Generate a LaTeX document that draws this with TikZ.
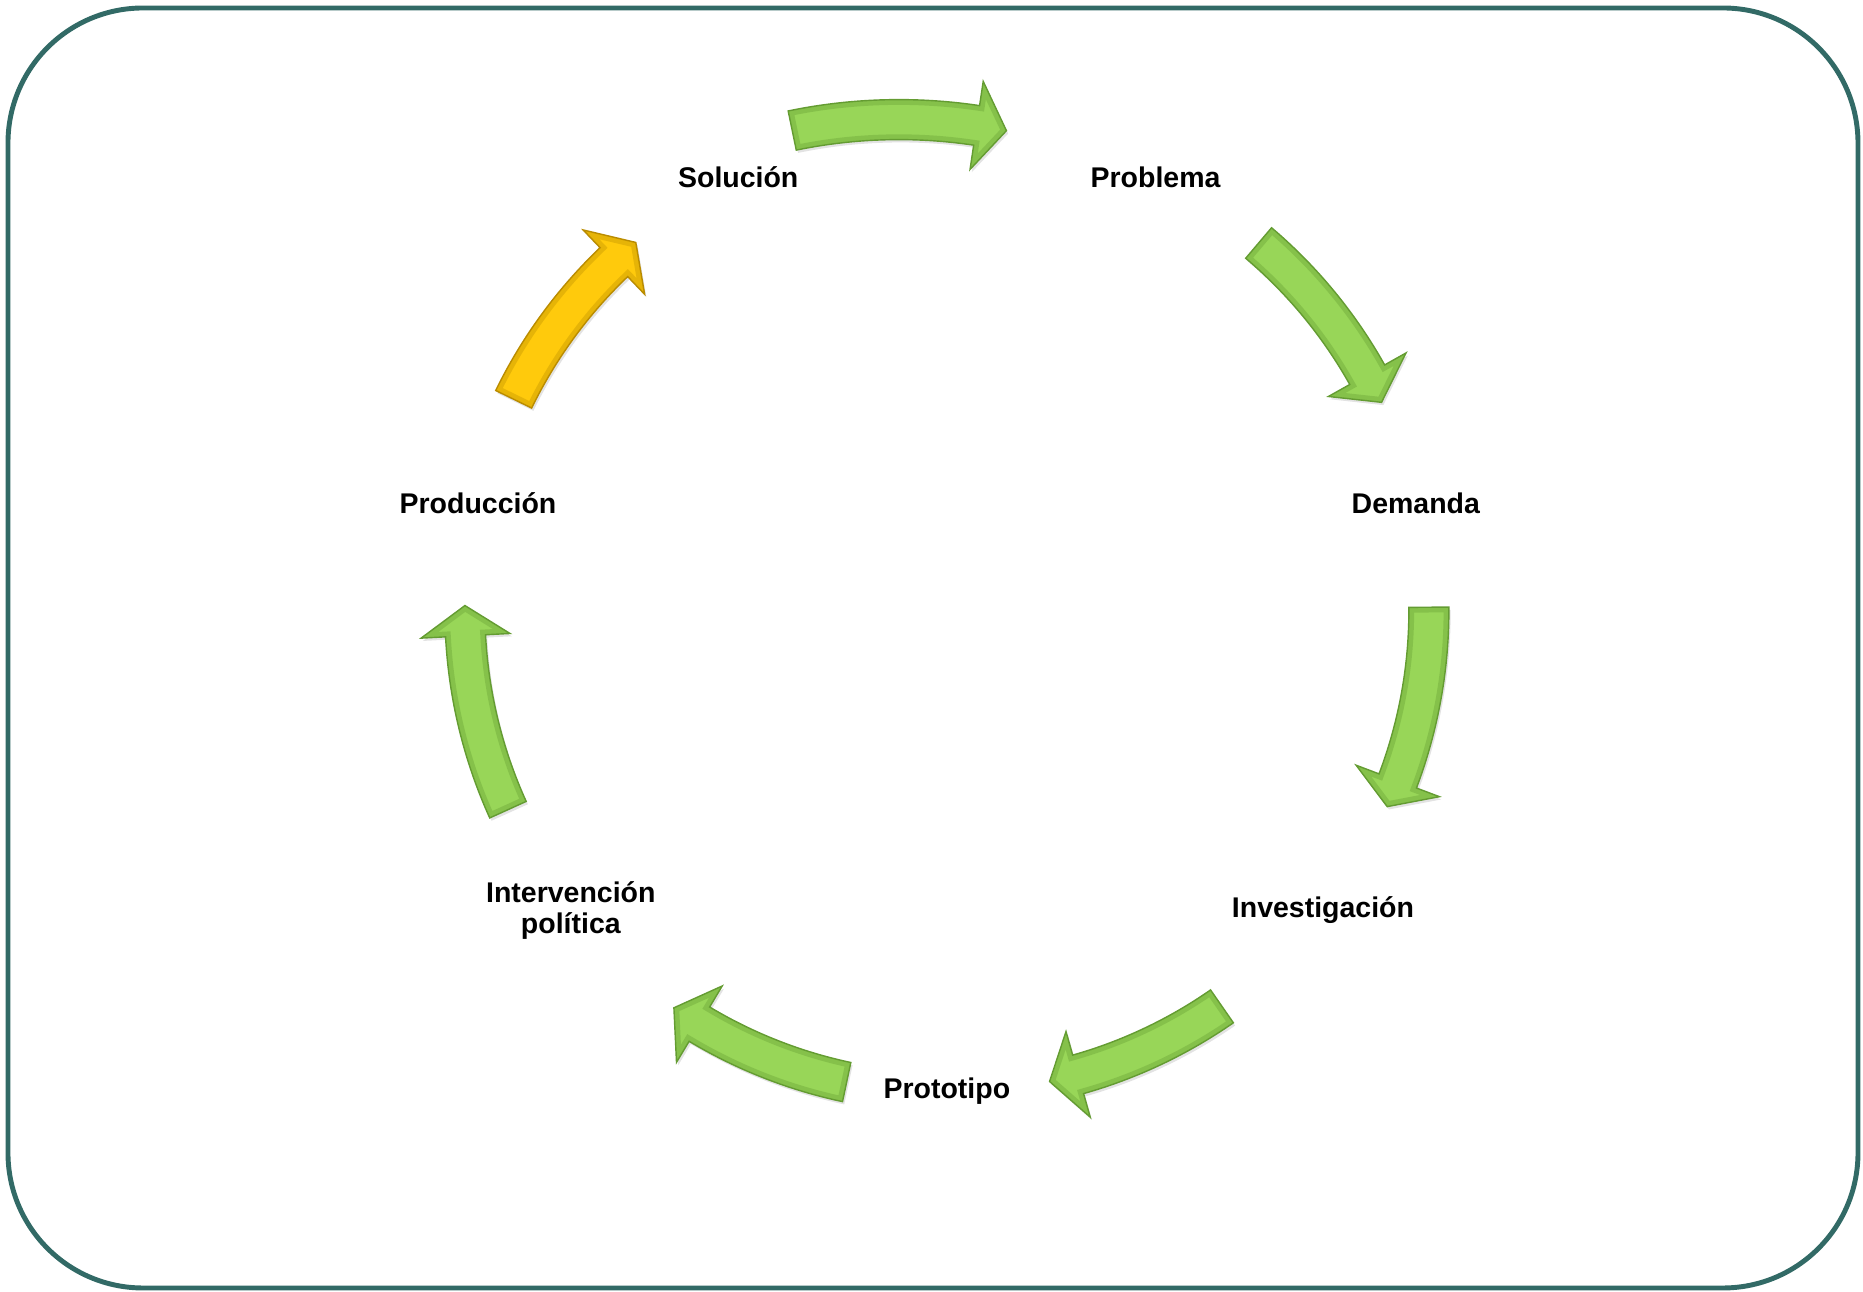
\documentclass[tikz,border=0pt]{standalone}
\usepackage{fontspec}
\setmainfont{Liberation Sans}
\usepackage{tikz}
\usetikzlibrary{shadows}
\definecolor{colormarco}{RGB}{50,106,102}
\definecolor{verde}{RGB}{152,214,88}
\definecolor{verdeborde}{RGB}{100,156,50}
\definecolor{amarillo}{RGB}{255,202,12}
\definecolor{amarilloborde}{RGB}{186,140,0}
\tikzset
{
    etiqueta/.style = {align=center, inner sep=0pt, font=\fontsize{8.1}{8.8}\selectfont\bfseries},
    sombra/.style = {drop shadow={opacity=0.22, shadow xshift=0.5pt, shadow yshift=-0.8pt}},
    biselverde/.style = {draw=verdeborde, line width=3pt, opacity=0.35},
    biselamarillo/.style = {draw=amarilloborde, line width=3pt, opacity=0.35},
    marco/.style = {draw=colormarco, line width=1.4pt, rounded corners=1.35cm}
}
% contorno de una flecha curva: cola, base de la punta, punta, radio
\newcommand{\contornoflecha}[4]{(#1:{#4+20}) arc[start angle=#1, end angle=#2, radius=#4+20]
	-- (#2:{#4+44.5}) -- (#3:#4) -- (#2:{#4-44.5})
	-- (#2:{#4-20}) arc[start angle=#2, end angle=#1, radius=#4-20] -- cycle}
\newcommand{\flechaciclo}[6]{%
	\fill[#5, sombra] \contornoflecha{#1}{#2}{#3}{#4};
	\begin{scope}
		\clip \contornoflecha{#1}{#2}{#3}{#4};
		\draw[#6] \contornoflecha{#1}{#2}{#3}{#4};
	\end{scope}
	\draw[#6, line width=0.4pt, opacity=1] \contornoflecha{#1}{#2}{#3}{#4};
}

\begin{document}
\begin{tikzpicture}[x=0.01cm, y=0.01cm]
	\useasboundingbox (-946.9,-681.4) rectangle (916.1,610.6);
	\draw[marco] (-938.9,602.6) rectangle (911.1,-677.4);

	% flechas del ciclo
	\begin{scope}[shift={(-48,-35)}]
		\flechaciclo{101.7}{81.5}{78.2}{526}{verde}{biselverde}
	\end{scope}
	\foreach \cola/\base/\punta in {49.7/29.3/25.6, 0.4/-20.7/-24.0, -55.2/-74.2/-77.7, -102.0/-120.9/-124.5, 204.4/183.0/179.4}
	{
		\flechaciclo{\cola}{\base}{\punta}{482}{verde}{biselverde}
	}
	\flechaciclo{154.0}{133.7}{130.2}{482}{amarillo}{biselamarillo}

	\node[etiqueta] (solucion) at (115.71:481) {Solución};
	\node[etiqueta] (problema) at (64.29:481) {Problema};
	\node[etiqueta] (demanda) at (12.86:481) {Demanda};
	\node[etiqueta] (investigacion) at (-38.57:481) {Investigación};
	\node[etiqueta] (prototipo) at (-90:481) {Prototipo};
	\node[etiqueta] (intervencion) at (218.57:481) {Intervención\\política};
	\node[etiqueta] (produccion) at (167.14:481) {Producción};
\end{tikzpicture}
\end{document}
